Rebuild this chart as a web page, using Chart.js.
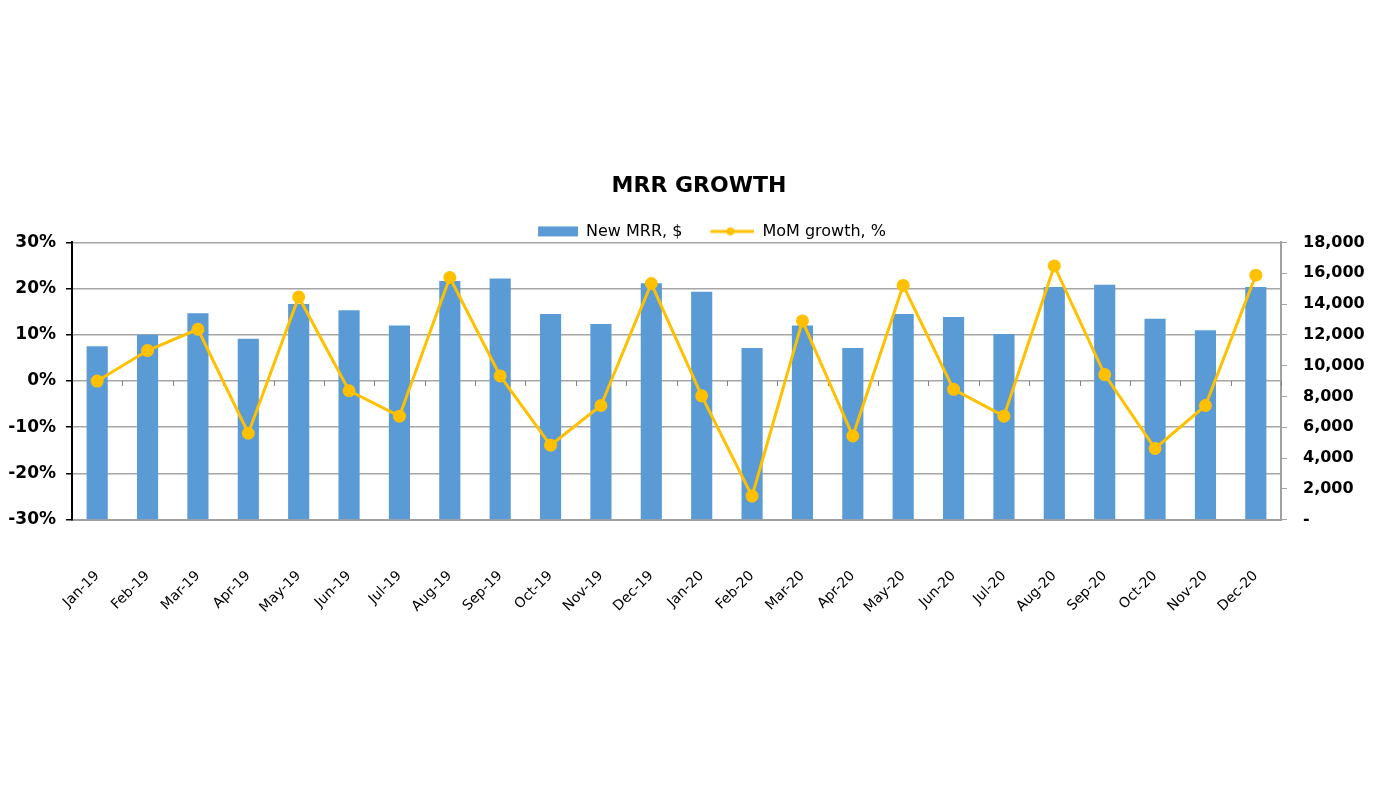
<!DOCTYPE html>
<html>
<head>
<meta charset="utf-8">
<script src="https://cdn.jsdelivr.net/npm/chart.js@4.4.1/dist/chart.umd.min.js"></script>
<style>
  html, body { margin: 0; padding: 0; background: #fff; }
  #wrap { width: 1396px; height: 786px; }
</style>
</head>
<body>
<div id="wrap"><canvas id="mrrChart" width="1396" height="786"></canvas></div>
<script>
// datos
const meses = ['Jan-19','Feb-19','Mar-19','Apr-19','May-19','Jun-19','Jul-19','Aug-19','Sep-19','Oct-19','Nov-19','Dec-19',
               'Jan-20','Feb-20','Mar-20','Apr-20','May-20','Jun-20','Jul-20','Aug-20','Sep-20','Oct-20','Nov-20','Dec-20'];
const nuevoMRR = [11250, 12000, 13400, 11750, 14000, 13600, 12600, 15500, 15650, 13350, 12700, 15350,
                  14800, 11150, 12600, 11150, 13350, 13150, 12050, 15100, 15250, 13050, 12300, 15100];
const crecimientoMoM = [0.0, 6.6, 11.2, -11.3, 18.2, -2.1, -7.6, 22.4, 1.1, -13.9, -5.3, 21.1,
                        -3.2, -24.9, 13.0, -11.9, 20.7, -1.8, -7.6, 24.9, 1.4, -14.6, -5.3, 22.9];
const ticksIzq = [-30, -20, -10, 0, 10, 20, 30];
const ticksDer = [0, 2000, 4000, 6000, 8000, 10000, 12000, 14000, 16000, 18000];

const azul = '#5B9BD5';
const amarillo = '#FFC000';
const fuente = "'DejaVu Sans', Verdana, sans-serif";
const anchoIcono = 66;

// iconos de la leyenda (parte izquierda transparente para separar los items)
function iconoBarra() {
    const c = document.createElement('canvas');
    c.width = anchoIcono; c.height = 12;
    const g = c.getContext('2d');
    g.fillStyle = azul;
    g.fillRect(anchoIcono - 40, 1, 40, 10);
    return c;
}
function iconoLinea() {
    const c = document.createElement('canvas');
    c.width = anchoIcono; c.height = 12;
    const g = c.getContext('2d');
    g.strokeStyle = amarillo;
    g.lineWidth = 3;
    g.beginPath(); g.moveTo(anchoIcono - 44, 6); g.lineTo(anchoIcono, 6); g.stroke();
    g.fillStyle = amarillo;
    g.beginPath(); g.arc(anchoIcono - 24, 6, 4, 0, Math.PI * 2); g.fill();
    return c;
}

// marcas de categoria sobre la linea del 0%
const marcasCero = {
    id: 'marcasCero',
    beforeDatasetsDraw(chart) {
        const x = chart.scales.x;
        const y = chart.scales.y;
        const y0 = y.getPixelForValue(0);
        const ctx = chart.ctx;
        ctx.save();
        ctx.strokeStyle = '#808080';
        ctx.lineWidth = 1;
        for (let i = 1; i <= meses.length; i++) {
            const px = Math.round(x.left + (x.right - x.left) * i / meses.length) + 0.5;
            ctx.beginPath();
            ctx.moveTo(px, y0);
            ctx.lineTo(px, y0 + 5);
            ctx.stroke();
        }
        ctx.restore();
    }
};

const ctx = document.getElementById('mrrChart').getContext('2d');
new Chart(ctx, {
    data: {
        labels: meses,
        datasets: [
            {
                type: 'line',
                label: 'MoM growth, %',
                data: crecimientoMoM,
                yAxisID: 'y',
                borderColor: amarillo,
                backgroundColor: amarillo,
                borderWidth: 3,
                pointRadius: 5,
                pointHoverRadius: 5,
                pointBackgroundColor: amarillo,
                pointBorderColor: amarillo,
                tension: 0,
                order: 1
            },
            {
                type: 'bar',
                label: 'New MRR, $',
                data: nuevoMRR,
                yAxisID: 'y1',
                backgroundColor: azul,
                borderWidth: 0,
                categoryPercentage: 1,
                barPercentage: 0.42,
                order: 2
            }
        ]
    },
    options: {
        responsive: false,
        devicePixelRatio: 1,
        animation: false,
        layout: { padding: { top: 173, left: 6, right: 4, bottom: 122 } },
        plugins: {
            title: {
                display: true,
                text: 'MRR GROWTH',
                color: '#000',
                font: { family: fuente, size: 22, weight: 'bold' },
                padding: { top: 0, bottom: 18 }
            },
            legend: {
                display: true,
                position: 'top',
                reverse: true,
                maxHeight: 25,
                labels: {
                    color: '#000',
                    font: { family: fuente, size: 16 },
                    usePointStyle: true,
                    pointStyleWidth: anchoIcono,
                    boxHeight: 12,
                    padding: 6,
                    generateLabels: function(chart) {
                        return chart.data.datasets.map((ds, i) => ({
                            text: ds.label,
                            pointStyle: ds.type === 'bar' ? iconoBarra() : iconoLinea(),
                            fillStyle: ds.backgroundColor,
                            strokeStyle: ds.backgroundColor,
                            lineWidth: 0,
                            hidden: false,
                            datasetIndex: i,
                            fontColor: '#000'
                        }));
                    }
                }
            },
            tooltip: { enabled: false }
        },
        scales: {
            x: {
                offset: true,
                grid: { display: false, drawTicks: false },
                border: { display: true, color: '#a0a0a0', width: 2 },
                ticks: {
                    color: '#000',
                    font: { family: fuente, size: 14 },
                    maxRotation: 45,
                    minRotation: 45,
                    autoSkip: false,
                    padding: 48
                }
            },
            y: {
                position: 'left',
                min: -30,
                max: 30,
                afterBuildTicks: function(axis) {
                    axis.ticks = ticksIzq.map(v => ({ value: v }));
                },
                afterFit: function(axis) { axis.width = 66; },
                grid: {
                    color: '#a6a6a6',
                    lineWidth: 1.5,
                    drawTicks: true,
                    tickLength: 6,
                    tickColor: '#000'
                },
                border: { display: true, color: '#000', width: 2 },
                ticks: {
                    color: '#000',
                    font: { family: fuente, size: 17, weight: 'bold' },
                    padding: 10,
                    callback: v => v + '%'
                }
            },
            y1: {
                position: 'right',
                min: 0,
                max: 18000,
                afterBuildTicks: function(axis) {
                    axis.ticks = ticksDer.map(v => ({ value: v }));
                },
                afterFit: function(axis) { axis.width = 111; },
                grid: {
                    drawOnChartArea: false,
                    drawTicks: true,
                    tickLength: 6,
                    tickColor: '#a0a0a0'
                },
                border: { display: true, color: '#a0a0a0', width: 2 },
                ticks: {
                    color: '#000',
                    font: { family: fuente, size: 16, weight: 'bold' },
                    padding: 16,
                    callback: v => v === 0 ? '-' : v.toLocaleString('en-US')
                }
            }
        }
    },
    plugins: [marcasCero]
});
</script>
</body>
</html>
